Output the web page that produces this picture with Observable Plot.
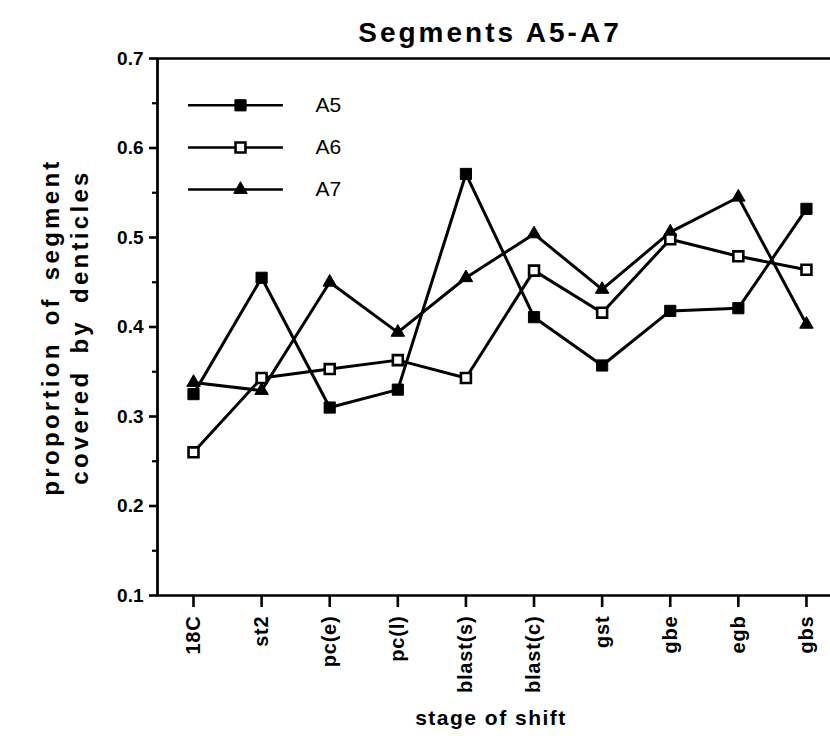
<!DOCTYPE html>
<html>
<head>
<meta charset="utf-8">
<script src="https://cdn.jsdelivr.net/npm/d3@7"></script>
<script src="https://cdn.jsdelivr.net/npm/@observablehq/plot@0.6"></script>
<style>
  html, body { margin: 0; padding: 0; background: #fff; overflow: hidden; }
  #title {
    width: 830px; height: 48px; box-sizing: border-box;
    padding-top: 18px; padding-left: 150px; line-height: 30px;
    text-align: center; font-family: "Liberation Sans", Arial, sans-serif;
    font-weight: bold; font-size: 28px; letter-spacing: 3px; color: #000;
  }
  svg { display: block; }
</style>
</head>
<body>
<div id="title">Segments A5-A7</div>
<div id="chart"></div>
<script>
// ---- data ----
const stages = ["18C", "st2", "pc(e)", "pc(l)", "blast(s)", "blast(c)", "gst", "gbe", "egb", "gbs"];
const A5 = [0.325, 0.455, 0.310, 0.330, 0.571, 0.411, 0.357, 0.418, 0.421, 0.532];
const A6 = [0.260, 0.343, 0.353, 0.363, 0.343, 0.463, 0.416, 0.498, 0.479, 0.464];
const A7 = [0.338, 0.329, 0.450, 0.394, 0.455, 0.504, 0.442, 0.506, 0.545, 0.403];
const seriesNames = ["A5", "A6", "A7"];
const yTicks = [0.1, 0.2, 0.3, 0.4, 0.5, 0.6, 0.7];
const yMinorTicks = [0.15, 0.25, 0.35, 0.45, 0.55, 0.65];
const yTitle = "proportion of segment\ncovered by denticles";
const xTitle = "stage of shift";

// ---- build ----
const values = {A5, A6, A7};
const styles = {
  A5: {symbol: "square", fill: "black", stroke: "black", strokeWidth: 1, r: 6.3},
  A6: {symbol: "square", fill: "white", stroke: "black", strokeWidth: 2.6, r: 5.6},
  A7: {symbol: "triangle", fill: "black", stroke: "black", strokeWidth: 1, r: 5}
};
const rows = seriesNames.flatMap(s => values[s].map((v, i) => ({series: s, i, v})));

// legend layout (in plot coordinates)
const legendY = {A5: 0.6477, A6: 0.6006, A7: 0.5536};
const legend = seriesNames.map(s => ({series: s, y: legendY[s]}));

const xDomain = [-0.5286, 9.353];
const yDomain = [0.1, 0.7];
const font = "'Liberation Sans', Arial, sans-serif";
const marks = [];

// frame lines: top, bottom, left
marks.push(Plot.ruleY(yDomain, {stroke: "black", strokeWidth: 2.6}));
marks.push(Plot.ruleX([xDomain[0]], {stroke: "black", strokeWidth: 2.8}));

// series lines
for (const s of ["A7", "A6", "A5"]) {
  marks.push(Plot.line(rows.filter(d => d.series === s), {x: "i", y: "v", stroke: "black", strokeWidth: 3}));
}
// series markers
for (const s of ["A7", "A6", "A5"]) {
  marks.push(Plot.dot(rows.filter(d => d.series === s), {x: "i", y: "v", ...styles[s]}));
}

// legend
for (const s of seriesNames) {
  const L = legend.filter(d => d.series === s);
  marks.push(Plot.ruleY(L, {y: "y", x1: -0.073, x2: 1.32, stroke: "black", strokeWidth: 2.6}));
  marks.push(Plot.dot(L, {y: "y", x: 0.69, ...styles[s]}));
  marks.push(Plot.text(L, {y: "y", x: 1.79, text: "series", textAnchor: "start", fontSize: 21, fill: "black"}));
}

// axes
marks.push(Plot.axisY({ticks: yTicks, tickFormat: d3.format(".1f"), tickSize: 8, tickPadding: 6,
  strokeWidth: 2.6, fontSize: 19, fontWeight: "bold", label: null, fill: "black"}));
marks.push(Plot.axisY({ticks: yMinorTicks, tickFormat: () => "", tickSize: 5, strokeWidth: 2.2, label: null}));
marks.push(Plot.axisX({ticks: d3.range(stages.length), tickFormat: i => stages[i], tickRotate: -90,
  tickSize: 12, tickPadding: 8, strokeWidth: 2.6, fontSize: 20, fontWeight: "bold", label: null,
  fill: "black"}));

// axis titles
marks.push(Plot.text([yTitle], {frameAnchor: "left", text: d => d, rotate: -90, dx: -93,
  textAnchor: "middle", lineAnchor: "middle", lineHeight: 1.17, fontSize: 24, fontWeight: "bold",
  fill: "black"}));
marks.push(Plot.text([xTitle], {frameAnchor: "bottom", text: d => d, dy: 123, dx: -3,
  textAnchor: "middle", lineAnchor: "middle", fontSize: 21, fontWeight: "bold",
  fill: "black"}));

const chart = Plot.plot({
  width: 830,
  height: 688,
  marginLeft: 157,
  marginRight: 0,
  marginTop: 10,
  marginBottom: 141,
  style: {fontFamily: font, color: "black", background: "white", overflow: "visible"},
  x: {type: "linear", domain: xDomain},
  y: {domain: yDomain},
  marks
});

// text spacing tweaks
d3.select(chart).selectAll("text").each(function () {
  const t = this.textContent;
  if (t.startsWith("proportion")) {
    this.style.letterSpacing = "3.3px";
    this.style.wordSpacing = "6px";
  } else if (t === xTitle) {
    this.style.letterSpacing = "1.5px";
  } else if (stages.includes(t)) {
    this.style.letterSpacing = "0.8px";
  }
});
document.getElementById("chart").appendChild(chart);
</script>
</body>
</html>
